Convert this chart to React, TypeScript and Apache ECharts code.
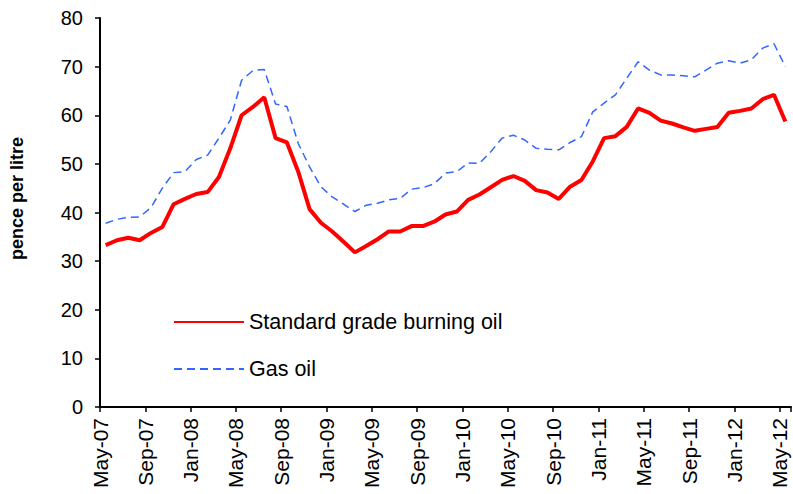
import React, { useEffect, useRef } from "react";
import * as echarts from "echarts";

const MONTH_NAMES = ["Jan", "Feb", "Mar", "Apr", "May", "Jun", "Jul", "Aug", "Sep", "Oct", "Nov", "Dec"];
const START_YEAR = 2007;
const START_MONTH = 4; // May
const MONTH_COUNT = 61;

const categories: string[] = [];
for (let i = 0; i < MONTH_COUNT; i++) {
  const m = (START_MONTH + i) % 12;
  const y = START_YEAR + Math.floor((START_MONTH + i) / 12);
  categories.push(MONTH_NAMES[m] + "-" + String(y % 100).padStart(2, "0"));
}

const burningOil = [
  33.3, 34.3, 34.8, 34.3, 35.8, 37.0, 41.7, 42.8, 43.8, 44.2, 47.3, 53.2,
  60.0, 61.7, 63.7, 55.3, 54.4, 48.4, 40.7, 37.9, 36.1, 34.0, 31.8, 33.1,
  34.5, 36.1, 36.1, 37.2, 37.2, 38.1, 39.6, 40.2, 42.6, 43.7, 45.2, 46.7,
  47.5, 46.5, 44.6, 44.1, 42.8, 45.3, 46.7, 50.5, 55.3, 55.7, 57.6, 61.4,
  60.5, 58.9, 58.3, 57.5, 56.8, 57.2, 57.6, 60.5, 60.9, 61.4, 63.3, 64.2,
  58.7,
];

const gasOil = [
  37.8, 38.6, 39.0, 39.1, 41.0, 45.0, 48.2, 48.4, 50.9, 51.8, 55.3, 59.0,
  67.2, 69.2, 69.4, 62.3, 61.8, 54.2, 49.4, 45.3, 43.2, 41.7, 40.2, 41.5,
  41.9, 42.6, 42.9, 44.8, 45.1, 45.9, 48.1, 48.4, 50.2, 50.1, 52.5, 55.3,
  55.9, 54.9, 53.2, 53.0, 52.9, 54.4, 55.6, 60.7, 62.5, 64.2, 67.6, 71.0,
  69.3, 68.3, 68.3, 68.1, 67.9, 69.3, 70.7, 71.2, 70.7, 71.4, 73.8, 74.7,
  70.0,
];

const SERIES_NAMES = ["Standard grade burning oil", "Gas oil"];
const Y_MIN = 0;
const Y_MAX = 80;
const Y_STEP = 10;
const LABEL_STEP = 4;

const FONT = "'Liberation Sans', Arial, sans-serif";

export default function App() {
  const ref = useRef<HTMLDivElement>(null);

  useEffect(() => {
    if (!ref.current) return;
    const chart = echarts.init(ref.current, undefined, { renderer: "svg" });
    chart.setOption({
      animation: false,
      backgroundColor: "#fff",
      grid: { left: 100, right: 2, top: 18, bottom: 87, containLabel: false, outerBoundsMode: "none" },
      legend: {
        orient: "vertical",
        left: 168,
        top: 306,
        padding: 5,
        itemWidth: 70,
        itemHeight: 14,
        itemGap: 25,
        itemStyle: { opacity: 0 },
        textStyle: { fontSize: 21.5, color: "#000", fontFamily: FONT, lineHeight: 20 },
        data: SERIES_NAMES,
      },
      xAxis: [
        {
          type: "category",
          data: categories,
          boundaryGap: true,
          axisLine: { show: true, lineStyle: { color: "#000", width: 2 } },
          axisTick: { show: true, interval: LABEL_STEP - 1, length: 5, lineStyle: { color: "#000", width: 1.5 } },
          axisLabel: { show: false },
          splitLine: { show: false },
        },
        {
          type: "value",
          min: 0,
          max: MONTH_COUNT,
          interval: LABEL_STEP,
          position: "bottom",
          axisLine: { show: false },
          axisTick: { show: false },
          splitLine: { show: false },
          axisLabel: {
            rotate: 90,
            margin: 11,
            fontSize: 21,
            fontFamily: FONT,
            color: "#000",
            showMaxLabel: false,
            formatter: (v: number) => categories[v] ?? "",
          },
        },
      ],
      yAxis: {
        type: "value",
        min: Y_MIN,
        max: Y_MAX,
        interval: Y_STEP,
        axisLine: { show: true, lineStyle: { color: "#000", width: 2 } },
        axisTick: { show: true, length: 5, lineStyle: { color: "#000", width: 1.5 } },
        splitLine: { show: false },
        axisLabel: { fontSize: 20, margin: 17, color: "#000", fontFamily: FONT },
        name: "pence per litre",
        nameLocation: "middle",
        nameRotate: 90,
        nameGap: 74,
        nameTextStyle: { fontSize: 18, fontWeight: "bold", color: "#000", fontFamily: FONT, padding: [0, 0, 0, 28] },
      },
      series: [
        {
          name: SERIES_NAMES[0],
          type: "line",
          data: burningOil,
          symbol: "none",
          color: "#FF0000",
          lineStyle: { color: "#FF0000", width: 4 },
        },
        {
          name: SERIES_NAMES[1],
          type: "line",
          data: gasOil,
          symbol: "none",
          color: "#3366FF",
          lineStyle: { color: "#3366FF", width: 1.5, type: [8, 5] },
        },
      ],
    });
    return () => chart.dispose();
  }, []);

  return <div ref={ref} style={{ position: "fixed", left: 0, top: 0, width: 793, height: 494 }} />;
}
